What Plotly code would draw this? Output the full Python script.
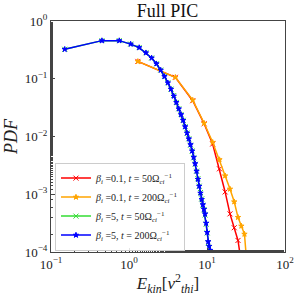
import plotly.graph_objects as go

# beta_i = 5 series (fine bins)
e_b5 = [0.15, 0.45, 0.75, 1.05, 1.35, 1.65, 1.95, 2.25, 2.55, 2.85, 3.15, 3.45, 3.75,
        4.05, 4.35, 4.65, 4.95, 5.25, 5.55, 5.85, 6.15, 6.45, 6.75, 7.05, 7.35, 7.65,
        7.95, 8.25, 8.55, 8.85, 9.15, 9.45, 9.75, 10.05, 10.35, 10.65, 10.95, 11.25, 11.55]
logpdf_b5_t50 = [-0.49, -0.34, -0.34, -0.40, -0.46, -0.55, -0.64, -0.74, -0.85, -0.96, -1.07,
                 -1.18, -1.29, -1.41, -1.52, -1.62, -1.72, -1.83, -1.94, -2.04, -2.15, -2.25,
                 -2.37, -2.48, -2.60, -2.73, -2.86, -2.97, -3.08, -3.19, -3.27, -3.36, -3.52,
                 -3.67, -3.84, -3.93, -4.02, -4.10, -4.25]
logpdf_b5_t200 = [-0.49, -0.34, -0.34, -0.40, -0.46, -0.55, -0.64, -0.74, -0.85, -0.96, -1.07,
                  -1.18, -1.30, -1.41, -1.52, -1.62, -1.72, -1.83, -1.94, -2.04, -2.14, -2.25,
                  -2.36, -2.47, -2.60, -2.74, -2.86, -2.98, -3.09, -3.18, -3.26, -3.34, -3.50,
                  -3.66, -3.82, -3.90, -3.97, -4.05, -4.20]

# beta_i = 0.1 series (coarse bins)
e_b01 = [1.3, 3.93, 6.56, 9.19, 11.82, 14.45, 17.08, 19.71, 22.34, 24.97, 27.6, 30.23, 32.86]
logpdf_b01_t50 = [-0.70, -0.975, -1.38, -1.78, -2.13, -2.56, -2.96, -3.34, -3.58, -3.80, -4.2, -4.6, -5.0]
logpdf_b01_t200 = [-0.70, -0.975, -1.37, -1.77, -2.10, -2.40, -2.68, -2.91, -3.13, -3.40, -3.55, -3.69, -4.3]

labels = [
    "<i>β<sub>i</sub></i> =0.1, <i>t</i> = 50Ω<sub><i>ci</i></sub><sup>−1</sup>",
    "<i>β<sub>i</sub></i> =0.1, <i>t</i> = 200Ω<sub><i>ci</i></sub><sup>−1</sup>",
    "<i>β<sub>i</sub></i> =5, <i>t</i> = 50Ω<sub><i>ci</i></sub><sup>−1</sup>",
    "<i>β<sub>i</sub></i> =5, <i>t</i> = 200Ω<sub><i>ci</i></sub><sup>−1</sup>",
]
colors = ["#ff0000", "#ffa500", "#33dd33", "#0000ff"]
symbols = ["x-thin", "star", "x-thin", "star"]
sizes = [5, 4, 5, 4]

series = [(e_b01, logpdf_b01_t50), (e_b01, logpdf_b01_t200),
          (e_b5, logpdf_b5_t50), (e_b5, logpdf_b5_t200)]

FONT = "Liberation Serif, Times New Roman, DejaVu Serif, serif"
fig = go.Figure()
for (xs, ly), lab, c, s, sz in zip(series, labels, colors, symbols, sizes):
    fig.add_trace(go.Scatter(
        x=xs, y=[10 ** v for v in ly], mode="lines+markers", name=lab,
        line=dict(color=c, width=1.5),
        marker=dict(symbol=s, size=sz, color=c, line=dict(color=c, width=1)),
    ))

xt = [0.1, 1, 10, 100]
xtt = ["10<sup>−1</sup>", "10<sup>0</sup>", "10<sup>1</sup>", "10<sup>2</sup>"]
yt = [1e-4, 1e-3, 1e-2, 1e-1, 1]
ytt = ["10<sup>−4</sup>", "10<sup>−3</sup>", "10<sup>−2</sup>", "10<sup>−1</sup>", "10<sup>0</sup>"]

axis_common = dict(type="log", showgrid=False, zeroline=False, showline=True,
                   linecolor="#444", linewidth=1, mirror=True, ticks="inside",
                   ticklen=4, tickcolor="#444", automargin=False,
                   minor=dict(ticks="inside", ticklen=2, tickcolor="#444", showgrid=False),
                   tickfont=dict(family=FONT, size=13, color="#222"))

fig.update_xaxes(range=[-1, 2], tickvals=xt, ticktext=xtt,
                 title=dict(text="<i>E<sub>kin</sub></i>[<i>v</i><sup>2</sup><sub><i>thi</i></sub>]",
                            font=dict(family=FONT, size=17, color="#222"), standoff=2),
                 **axis_common)
fig.update_yaxes(range=[-4, 0], tickvals=yt, ticktext=ytt,
                 title=dict(text="<i>PDF</i>", font=dict(family=FONT, size=18, color="#222"), standoff=2),
                 **axis_common)

fig.update_layout(
    width=299, height=296,
    margin=dict(l=51, r=14, t=21, b=44, autoexpand=False),
    paper_bgcolor="white", plot_bgcolor="white",
    font=dict(family=FONT),
    title=dict(text="Full PIC", x=0.56, xanchor="center", y=0.965, yanchor="middle",
               font=dict(family=FONT, size=18, color="#111")),
    legend=dict(x=0.017, y=0.006, xanchor="left", yanchor="bottom",
                bgcolor="rgba(255,255,255,0.85)", bordercolor="#ccc", borderwidth=1,
                font=dict(family=FONT, size=10, color="#222"), tracegroupgap=2,
                itemwidth=30),
    showlegend=True,
)

fig.write_html("out.html", config={"displayModeBar": False},
               post_script="document.body.style.margin='0';document.body.style.overflow='hidden';")
